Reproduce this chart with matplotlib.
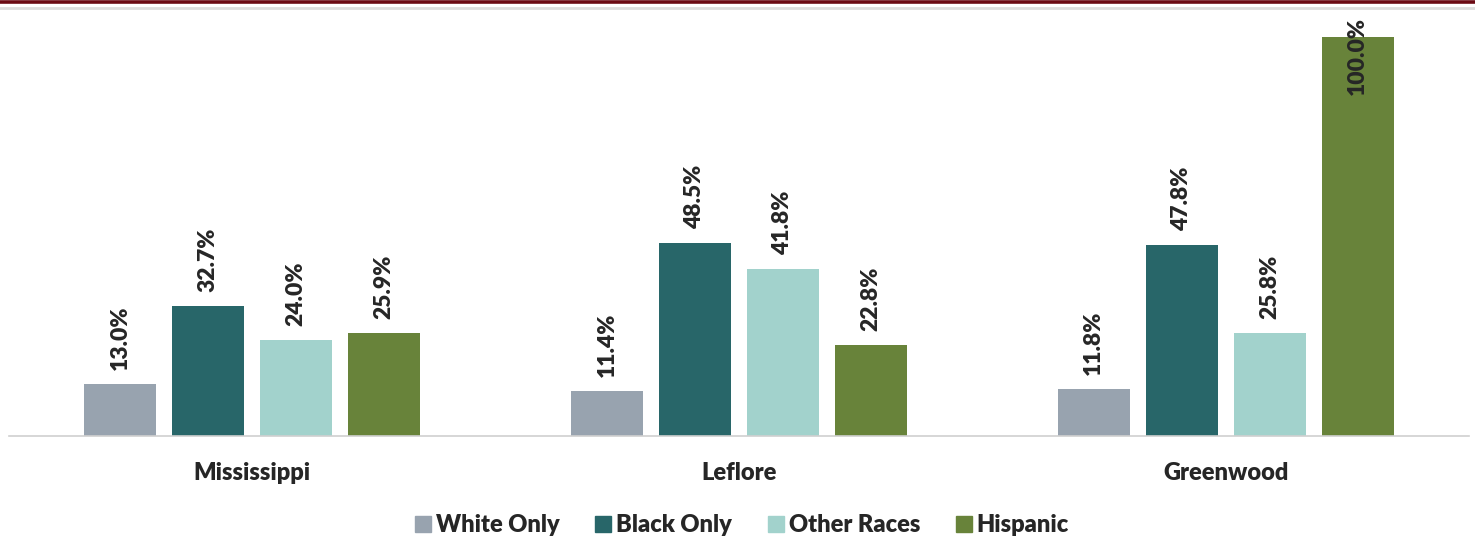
import matplotlib
matplotlib.use("Agg")
import matplotlib.pyplot as plt
from matplotlib.lines import Line2D
import numpy as np

categories = ["Mississippi", "Leflore", "Greenwood"]
series = ["White Only", "Black Only", "Other Races", "Hispanic"]
white_only = [13.0, 11.4, 11.8]
black_only = [32.7, 48.5, 47.8]
other_races = [24.0, 41.8, 25.8]
hispanic = [25.9, 22.8, 100.0]
colors = ["#98A3AF", "#286669", "#A2D2CC", "#68833A"]

values = [white_only, black_only, other_races, hispanic]

plt.rcParams['font.family'] = ['Lato', 'DejaVu Sans']
W = "heavy"

fig = plt.figure(figsize=(14.75, 5.38), dpi=100)
ax = fig.add_axes([0.006, 0.1896, 0.99, 0.8104])

x = np.arange(len(categories))
pitch = 0.1807
width = 0.148
label_top_limit = 85.5
for i, (name, vals, c) in enumerate(zip(series, values, colors)):
    pos = x + (i - 1.5) * pitch
    ax.bar(pos, vals, width=width, color=c, label=name, zorder=2)
    for px, v in zip(pos, vals):
        yb = min(v + 3.5, label_top_limit)
        ax.text(px, yb, f"{v:.1f}%", rotation=90, ha="center", va="bottom",
                fontsize=16.5, fontweight=W, color="#262626", clip_on=False)

ax.set_xlim(-0.5, 2.5)
ax.set_ylim(0, 109.3)
ax.set_yticks([])
ax.set_xticks(x)
ax.set_xticklabels(categories, fontsize=17, fontweight=W, color="#262626")
ax.tick_params(axis="x", length=0, pad=19)
for s in ["top", "right", "left"]:
    ax.spines[s].set_visible(False)
ax.spines["bottom"].set_color("#D0D0D0")
ax.spines["bottom"].set_linewidth(1.2)

handles = [Line2D([], [], marker="s", linestyle="none", markersize=12,
                  markerfacecolor=c, markeredgecolor=c) for c in colors]
leg = fig.legend(handles, series, loc="center", bbox_to_anchor=(0.502, 0.024),
                 ncol=4, frameon=False, handletextpad=0.1, columnspacing=1.4,
                 handlelength=0.9, prop={"weight": W, "size": 17})
for t in leg.get_texts():
    t.set_color("#262626")

fig.add_artist(Line2D([0, 1], [1 - 1.5/538, 1 - 1.5/538], color="#6B0A14", linewidth=2.6,
                      transform=fig.transFigure))
fig.add_artist(Line2D([0, 1], [1 - 8/538, 1 - 8/538], color="#DDDDDD", linewidth=2.0,
                      transform=fig.transFigure))

fig.savefig("out.png", dpi=100)
